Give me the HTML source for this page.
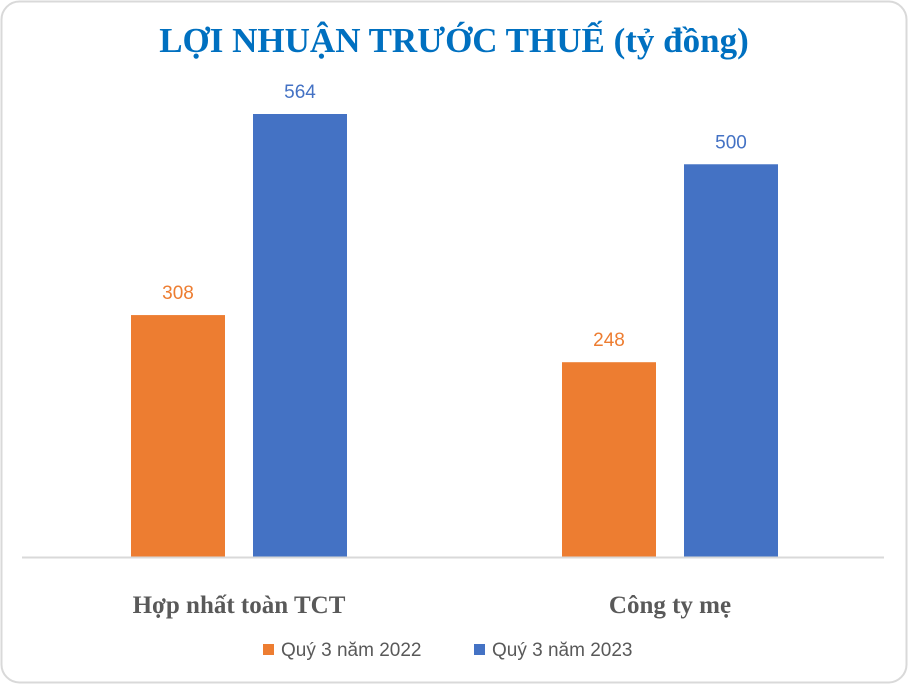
<!DOCTYPE html>
<html><head><meta charset="utf-8">
<style>
html,body{margin:0;padding:0;background:#fff;}
#wrap{position:relative;width:908px;height:684px;overflow:hidden;}
</style></head>
<body>
<div id="wrap">
<svg id="chart" width="908" height="684" xmlns="http://www.w3.org/2000/svg">
  <rect x="1.5" y="1.5" width="905" height="681" rx="18" ry="18" fill="#fff" stroke="#d9d9d9" stroke-width="2"/>
  <text x="454" y="52" text-anchor="middle" font-family="Liberation Serif, serif" font-weight="bold" font-size="35" fill="#0070c0">LỢI NHUẬN TRƯỚC THUẾ (tỷ đồng)</text>
  <g id="bars"></g>
  <line x1="22" y1="557.5" x2="884" y2="557.5" stroke="#d9d9d9" stroke-width="2"/>
  <g id="cats"></g>
  <g>
    <g>
      <rect x="263" y="644" width="11" height="11" fill="#ed7d31"/>
      <text x="281" y="656" font-family="Liberation Sans, sans-serif" font-size="19" fill="#595959">Quý 3 năm 2022</text>
    </g>
    <g>
      <rect x="474" y="644" width="11" height="11" fill="#4472c4"/>
      <text x="492" y="656" font-family="Liberation Sans, sans-serif" font-size="19" fill="#595959">Quý 3 năm 2023</text>
    </g>
  </g>
</svg>
</div>
<script>
const categories = ["Hợp nhất toàn TCT", "Công ty mẹ"];
const series2022 = [308, 248];
const series2023 = [564, 500];
const seriesNames = ["2022", "2023"];

const NS = "http://www.w3.org/2000/svg";
const baseY = 557, plotTop = 114, maxV = 564;
const yScale = v => baseY - (v / maxV) * (baseY - plotTop);
const groupX0 = 22, groupW = 431; // each category band
const barW = 94;
const offsets = [109, 231];
const colors = ["#ed7d31", "#4472c4"];
const bars = document.getElementById("bars");
const cats = document.getElementById("cats");
[series2022, series2023].forEach((s, si) => {
  s.forEach((v, ci) => {
    const x = groupX0 + ci * groupW + offsets[si];
    const y = yScale(v);
    const r = document.createElementNS(NS, "rect");
    r.setAttribute("x", x); r.setAttribute("y", y);
    r.setAttribute("width", barW); r.setAttribute("height", baseY - y);
    r.setAttribute("fill", colors[si]);
    
    
    bars.appendChild(r);
    const t = document.createElementNS(NS, "text");
    t.setAttribute("x", x + barW / 2); t.setAttribute("y", y - 16);
    t.setAttribute("text-anchor", "middle");
    t.setAttribute("font-family", "Liberation Sans, sans-serif");
    t.setAttribute("font-size", "19");
    t.setAttribute("fill", colors[si]);
    t.textContent = v;
    
    
    bars.appendChild(t);
  });
});
categories.forEach((c, ci) => {
  const t = document.createElementNS(NS, "text");
  t.setAttribute("x", groupX0 + ci * groupW + 217);
  t.setAttribute("y", 613);
  t.setAttribute("text-anchor", "middle");
  t.setAttribute("font-family", "Liberation Serif, serif");
  t.setAttribute("font-weight", "bold");
  t.setAttribute("font-size", "25");
  t.setAttribute("fill", "#595959");
  t.textContent = c;
  
  
  cats.appendChild(t);
});
</script>
</body></html>
